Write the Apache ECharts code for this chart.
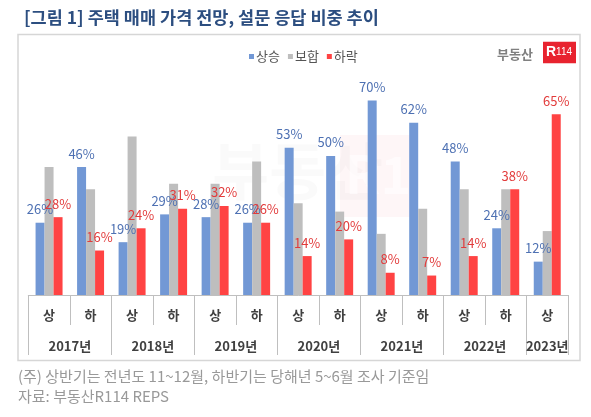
<!DOCTYPE html>
<html>
<head>
<meta charset="utf-8">
<script src="https://cdn.jsdelivr.net/npm/echarts@6/dist/echarts.min.js"></script>
<style>
html,body{margin:0;padding:0;background:#fff;}
#c{width:591px;height:417px;}
</style>
</head>
<body>
<div id="c"></div>
<script>
// ---- data ----
var halves = ['상','하','상','하','상','하','상','하','상','하','상','하','상'];
var years = ['2017년','2018년','2019년','2020년','2021년','2022년','2023년'];
var yearSpans = [2,2,2,2,2,2,1];
var rise = [26,46,19,29,28,26,53,50,70,62,48,24,12];   // 상승
var hold = [46,38,57,40,40,48,33,30,22,31,38,38,23];   // 보합
var fall = [28,16,24,31,32,26,14,20,8,7,14,38,65];     // 하락
var seriesNames = ['상승','보합','하락'];

var FONT = '"Noto Sans CJK KR", "Noto Sans", sans-serif';

// year boundary/center positions on a half-year value scale
var yearTicks = [0], yearCenters = [];
(function(){
  var pos = 0;
  for (var i = 0; i < yearSpans.length; i++) {
    yearCenters.push(pos + yearSpans[i] / 2);
    pos += yearSpans[i];
    yearTicks.push(pos);
  }
})();

var chart = echarts.init(document.getElementById('c'), null, {renderer: 'canvas'});

function labelCfg(color) {
  return {
    show: true, position: 'top', distance: 7,
    color: color, fontSize: 13, fontFamily: FONT,
    formatter: '{c}%'
  };
}

var option = {
  backgroundColor: '#ffffff',
  animation: false,
  textStyle: {fontFamily: FONT},
  title: {
    text: '[그림 1] 주택 매매 가격 전망, 설문 응답 비중 추이',
    left: 19, top: 4,
    textStyle: {fontSize: 17.5, fontWeight: 'bold', color: '#2C4E80', fontFamily: FONT}
  },
  legend: {
    data: seriesNames,
    left: 244, top: 45,
    itemWidth: 5, itemHeight: 5, itemGap: 8,
    icon: 'rect',
    textStyle: {fontSize: 13, color: '#555', fontFamily: FONT, padding: [0,0,0,-3]}
  },
  grid: {left: 28.3, right: 23, top: 72.6, bottom: 122, containLabel: false},
  xAxis: [
    {
      type: 'category', data: halves, position: 'bottom',
      axisLine: {show: true, lineStyle: {color: '#BFBFBF', width: 1}},
      axisTick: {show: true, interval: 0, length: 30, lineStyle: {color: '#BFBFBF'}},
      axisLabel: {interval: 0, margin: 14, fontSize: 13, fontWeight: 'bold', color: '#404040', fontFamily: FONT}
    },
    {
      type: 'value', position: 'bottom', min: 0, max: halves.length,
      axisLine: {show: false},
      splitLine: {show: false},
      axisTick: {show: true, length: 60, customValues: yearTicks, lineStyle: {color: '#BFBFBF'}},
      axisLabel: {
        show: true, margin: 45, fontSize: 13, fontWeight: 'bold', color: '#404040', fontFamily: FONT,
        customValues: yearCenters,
        formatter: function (v) {
          var idx = yearCenters.indexOf(v);
          return idx >= 0 ? years[idx] : '';
        }
      }
    }
  ],
  yAxis: {
    type: 'value', min: 0, max: 80, show: false,
    splitLine: {show: false}
  },
  series: [
    {
      name: seriesNames[0], type: 'bar', data: rise, xAxisIndex: 0,
      barGap: '0%', barCategoryGap: '35%',
      itemStyle: {color: '#7298D5'},
      label: labelCfg('#4E71B3')
    },
    {
      name: seriesNames[1], type: 'bar', data: hold, xAxisIndex: 0,
      barGap: '0%', barCategoryGap: '35%',
      itemStyle: {color: '#BEBEBE'},
      label: {show: false}
    },
    {
      name: seriesNames[2], type: 'bar', data: fall, xAxisIndex: 0,
      barGap: '0%', barCategoryGap: '35%',
      itemStyle: {color: '#FF4343'},
      label: labelCfg('#E23B3B')
    }
  ],
  graphic: [
    // outer frame
    {type: 'rect', z: -10, shape: {x: 18, y: 34.5, width: 562, height: 326},
     style: {fill: 'none', stroke: '#D6D6D6', lineWidth: 1.5}},
    // faint watermark
    {type: 'text', z: -5, left: 212, top: 140,
     style: {text: '부동산', fontSize: 62, fontWeight: 'bold', fill: 'rgba(120,120,120,0.04)', fontFamily: FONT}},
    {type: 'rect', z: -6, shape: {x: 340, y: 135, width: 70, height: 82},
     style: {fill: 'rgba(240,80,90,0.05)'}},
    {type: 'text', z: -5, left: 345, top: 148,
     style: {text: 'R14', fontSize: 52, fontWeight: 'bold', fill: 'rgba(255,255,255,0.6)', fontFamily: FONT}},
    // logo
    {type: 'text', left: 497, top: 48,
     style: {text: '부동산', fontSize: 13, fontWeight: 'bold', fill: '#808080', fontFamily: FONT}},
    {type: 'rect', shape: {x: 543, y: 41.7, width: 33, height: 21.6},
     style: {fill: '#E8232F'}},
    {type: 'text', left: 546, top: 45,
     style: {rich: {a: {fontSize: 14, fontWeight: 'bold', fill: '#fff', fontFamily: 'Liberation Sans'},
                    b: {fontSize: 10, fill: '#fff', fontFamily: 'Liberation Sans Narrow, Liberation Sans'}},
             text: '{a|R}{b|114}'}},
    // footnotes
    {type: 'text', left: 18, top: 369,
     style: {text: '(주) 상반기는 전년도 11~12월, 하반기는 당해년 5~6월 조사 기준임', fontSize: 15, fill: '#999999', fontFamily: FONT}},
    {type: 'text', left: 18, top: 389,
     style: {text: '자료: 부동산R114 REPS', fontSize: 15, fill: '#999999', fontFamily: FONT}}
  ]
};

chart.setOption(option);
</script>
</body>
</html>
